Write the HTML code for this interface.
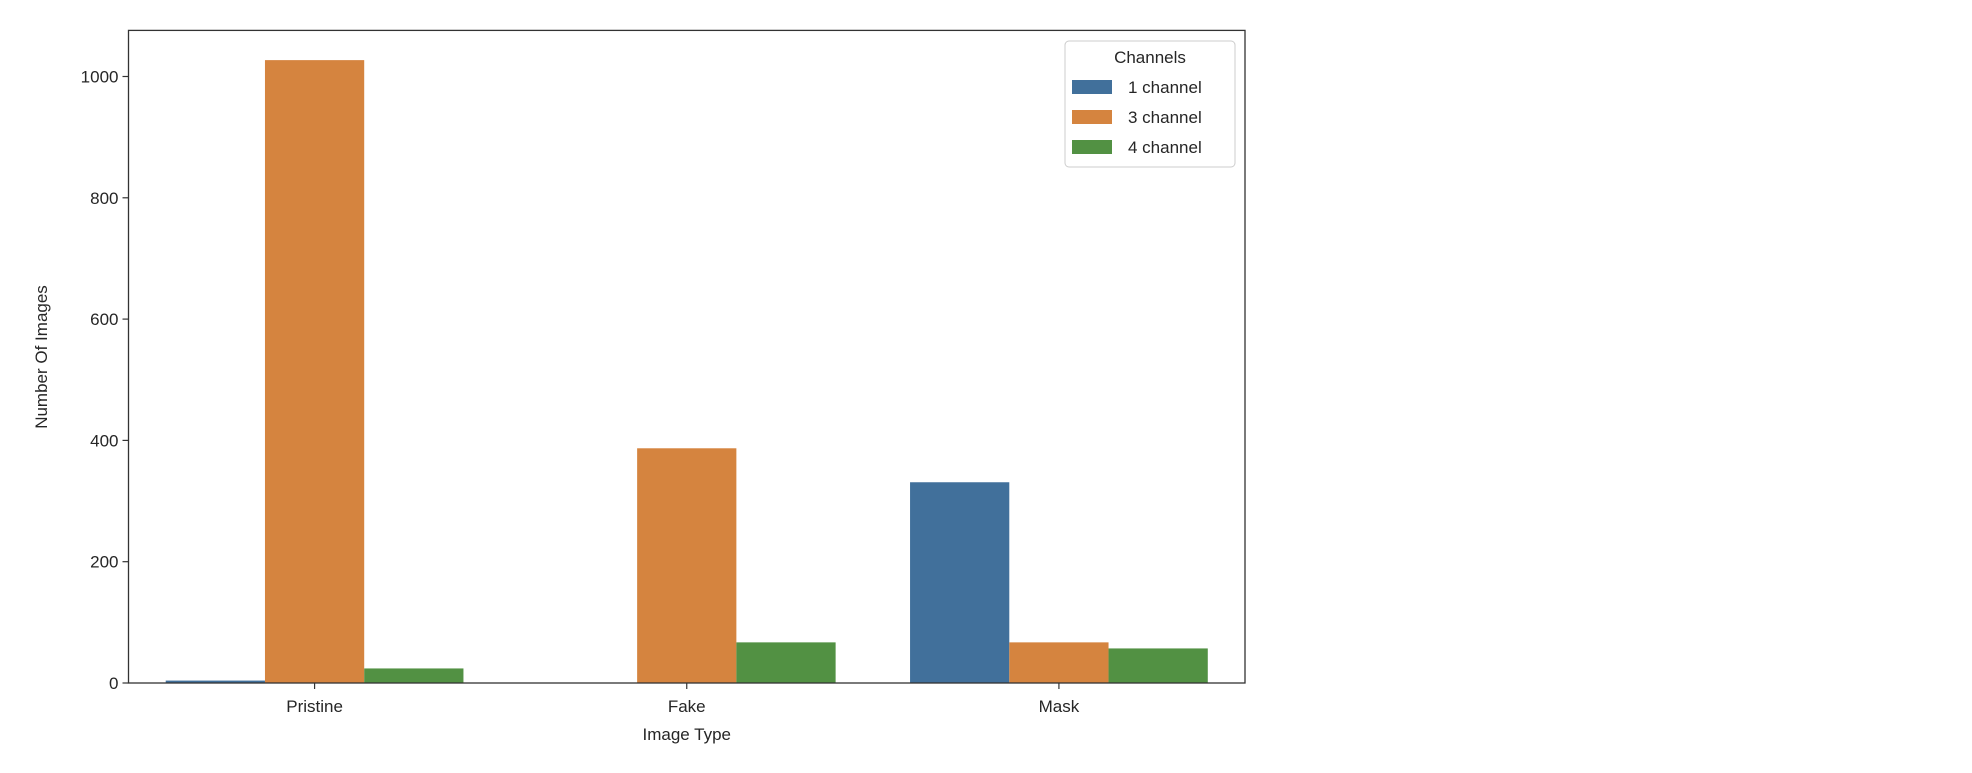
<!DOCTYPE html>
<html><head><meta charset="utf-8"><style>
html,body{margin:0;padding:0;background:#fff;}
svg text{font-family:"Liberation Sans","DejaVu Sans",sans-serif;fill:#262626;}
</style></head><body>
<svg id="chart" width="1972" height="768" xmlns="http://www.w3.org/2000/svg">
<g id="bars"></g>
<g id="axes"></g>
<g id="legend"></g>
</svg>
<script>
const categories = ["Pristine","Fake","Mask"];
const seriesNames = ["1 channel","3 channel","4 channel"];
const ch1 = [4, 0, 331];
const ch3 = [1027, 387, 67];
const ch4 = [24, 67, 57];
const yTicks = [0,200,400,600,800,1000];
const colors = ["#41709b","#d5843f","#529143"];
const series = [ch1, ch3, ch4];

const L=128.5,R=1245,T=30.4,B=683,YMAX=1076;
const NS="http://www.w3.org/2000/svg";
function y(v){return B-(v/YMAX)*(B-T);}
function x(i){return L+(i+0.5)*(R-L)/categories.length;}
const band=(R-L)/categories.length, bw=band*0.8/series.length;
function mk(tag,attrs,parent){const e=document.createElementNS(NS,tag);for(const k in attrs)e.setAttribute(k,attrs[k]);parent.appendChild(e);return e;}
const bars=document.getElementById('bars'),axes=document.getElementById('axes'),leg=document.getElementById('legend');
series.forEach((s,si)=>{s.forEach((v,ci)=>{
  const x0=x(ci)-band*0.4+si*bw;
  const r=mk('rect',{x:x0,y:y(v),width:bw,height:B-y(v),fill:colors[si]},bars);
  
  
});});
const frame=mk('rect',{x:L,y:T,width:R-L,height:B-T,fill:'none',stroke:'#333',"stroke-width":1.3},axes);


yTicks.forEach(t=>{
  const ln=mk('line',{x1:L-6,x2:L,y1:y(t),y2:y(t),stroke:'#333',"stroke-width":1.2},axes);
  
  
  const tx=mk('text',{x:L-10,y:y(t)+6,"text-anchor":"end","font-size":17},axes);
  tx.textContent=t;
  
  
});
categories.forEach((c,i)=>{
  const ln=mk('line',{x1:x(i),x2:x(i),y1:B,y2:B+6,stroke:'#333',"stroke-width":1.2},axes);
  
  
  const tx=mk('text',{x:x(i),y:B+29,"text-anchor":"middle","font-size":17},axes);
  tx.textContent=c;
  
  
});
const xl=mk('text',{x:(L+R)/2,y:740,"text-anchor":"middle","font-size":17},axes);
xl.textContent="Image Type";


const yl=mk('text',{x:0,y:0,"text-anchor":"middle","font-size":17,transform:"translate(47,357) rotate(-90)"},axes);
yl.textContent="Number Of Images";


const lb=mk('rect',{x:1065,y:41,width:170,height:126,rx:4,fill:'#fff',"fill-opacity":0.8,stroke:'#ccc'},leg);


const lt=mk('text',{x:1150,y:63,"text-anchor":"middle","font-size":17},leg);
lt.textContent="Channels";


seriesNames.forEach((n,i)=>{
  const cy=87+i*30;
  const p=mk('rect',{x:1072,y:cy-7,width:40,height:14,fill:colors[i]},leg);
  
  
  const t=mk('text',{x:1128,y:cy+6,"font-size":17},leg);
  t.textContent=n;
  
  
});
</script>
</body></html>
